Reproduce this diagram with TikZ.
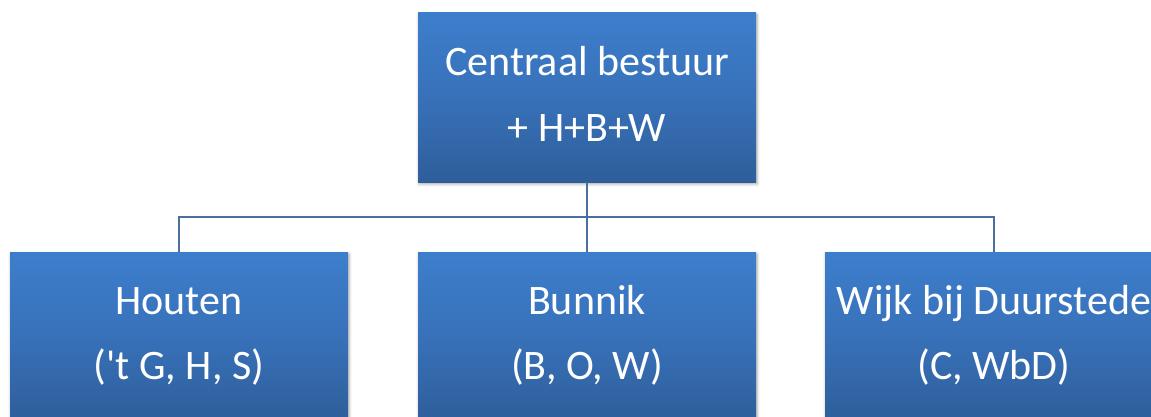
\documentclass[tikz,border=0pt]{standalone}
\usepackage{fontspec}
\setmainfont{Carlito}[Ligatures=TeXOff]
\usetikzlibrary{shadows.blur}
\definecolor{boxtop}{RGB}{61,126,204}
\definecolor{boxmid}{RGB}{56,113,185}
\definecolor{boxbot}{RGB}{46,94,154}
\definecolor{linecol}{RGB}{74,110,160}
\tikzset{
  orgbox/.style={rectangle, minimum width=338pt, minimum height=169pt, inner sep=0pt,
    top color=boxtop, bottom color=boxbot, middle color=boxmid,
    blur shadow={shadow xshift=1pt, shadow yshift=-2pt, shadow blur radius=3pt, shadow opacity=35}},
  boxtext/.style={anchor=base, text=white, font=\fontsize{42}{50}\selectfont, inner sep=0pt},
  conn/.style={draw=linecol, line width=2pt}
}
\begin{document}
\begin{tikzpicture}[x=1pt,y=1pt]
\useasboundingbox (0,0) rectangle (1151,416);
\node[orgbox] (top) at (587,{416-97.5}) {};
\node[orgbox] (b1) at (179,{416-336.5}) {};
\node[orgbox] (b2) at (587,{416-336.5}) {};
\node[orgbox] (b3) at (994,{416-336.5}) {};
\coordinate (hub) at (587,{416-216.5});
\coordinate (hl) at (179,{416-216.5});
\coordinate (hr) at (994,{416-216.5});
\draw[conn] (top.south) -- (hub);
\draw[conn] (hub) -- (b2.north);
\draw[conn] ([xshift=-1pt]hl) -- ([xshift=1pt]hr);
\draw[conn] (hl) -- (b1.north);
\draw[conn] (hr) -- (b3.north);
\node[boxtext] (t1) at ([yshift=-63pt]top.north) {Centraal bestuur};
\node[boxtext] (t2) at ([yshift=-129pt]top.north) {+ H+B+W};
\node[boxtext] (u1) at ([yshift=-63pt]b1.north) {Houten};
\node[boxtext] (u2) at ([yshift=-128pt]b1.north) {('t G, H, S)};
\node[boxtext] (v1) at ([yshift=-63pt]b2.north) {Bunnik};
\node[boxtext] (v2) at ([yshift=-128pt]b2.north) {(B, O, W)};
\node[boxtext] (w1) at ([yshift=-63pt]b3.north) {Wijk bij Duurstede};
\node[boxtext] (w2) at ([yshift=-128pt]b3.north) {(C, WbD)};
\end{tikzpicture}
\end{document}
